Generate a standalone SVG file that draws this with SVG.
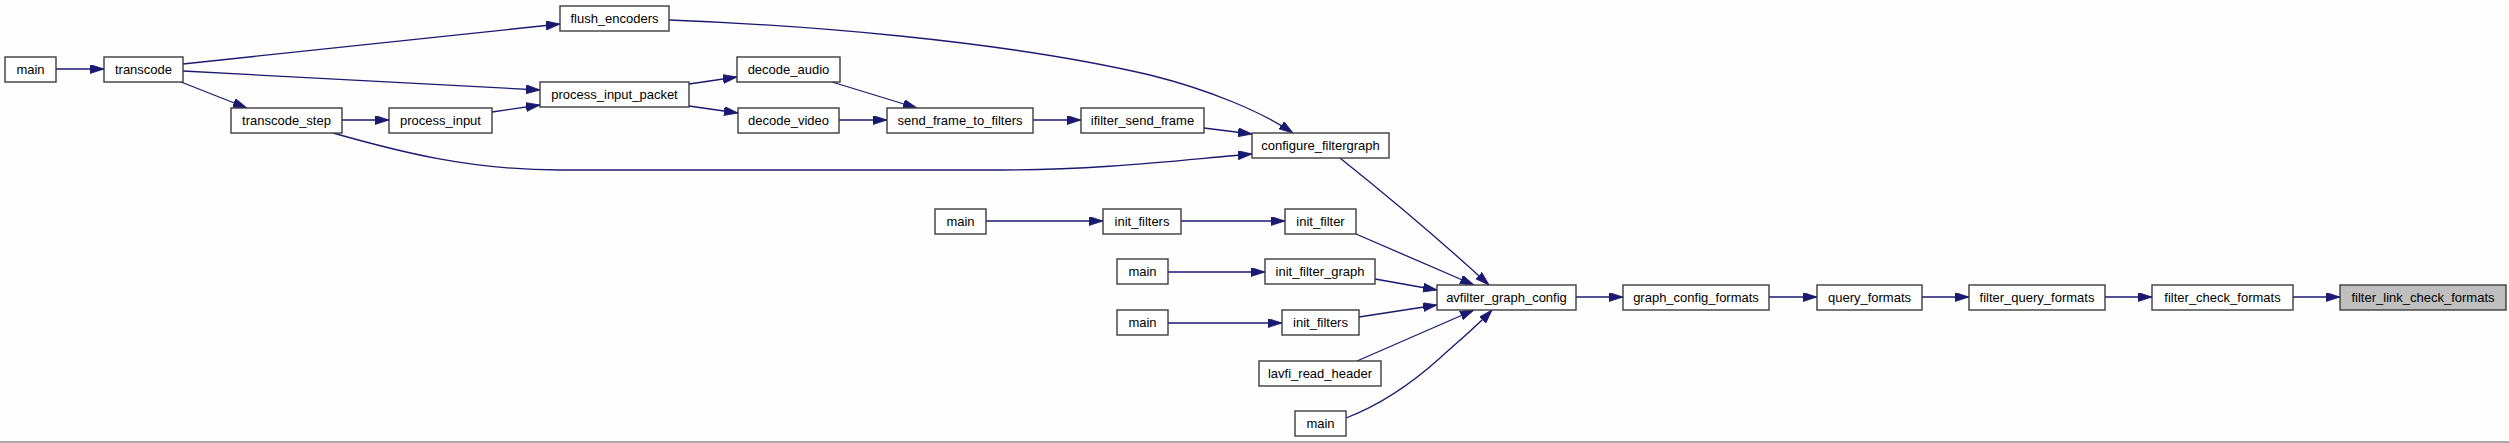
<svg xmlns="http://www.w3.org/2000/svg" width="2509" height="443" viewBox="0 0 2509 443">
<defs>
<style>
.n rect{fill:#ffffff;stroke:#3c3c3c;stroke-width:1.4}
.n text{font-family:"Liberation Sans",Arial,sans-serif;font-size:13px;fill:#000;text-anchor:middle}
.n.cur rect{fill:#bfbfbf}
.e path{fill:none;stroke:#191970;stroke-width:1.3;marker-end:url(#ah)}
</style>
<marker id="ah" markerUnits="userSpaceOnUse" markerWidth="15" markerHeight="10" refX="14" refY="4.5" orient="auto" viewBox="0 0 15 10">
<path d="M0,0 L14,4.5 L0,9 z" fill="#191970" stroke="#191970" stroke-width="0.8"/>
</marker>
</defs>
<rect x="0" y="0" width="2509" height="443" fill="#fdfefd"/>
<line x1="0" y1="442" x2="2509" y2="442" stroke="#a8a8a8" stroke-width="2"/>

<g id="edges" class="e">
<path d="M56,69 L104,69"/>
<path d="M183,64 L560,24"/>
<path d="M183,71 L540,90"/>
<path d="M181,82 L247,108"/>
<path d="M342,120 L389,120"/>
<path d="M333,133 C400,152 470,170 560,170 L1000,170 C1100,170 1180,160 1252,154"/>
<path d="M492,112 L540,105"/>
<path d="M689,84 L737,77"/>
<path d="M689,106 L738,113"/>
<path d="M832,82 L917,108"/>
<path d="M839,120 L887,120"/>
<path d="M1033,120 L1081,120"/>
<path d="M1204,128 L1252,134"/>
<path d="M669,20 C800,25 1000,40 1150,75 C1210,90 1262,112 1293,133"/>
<path d="M1340,158 C1390,198 1440,240 1489,285"/>
<path d="M986,221 L1103,221"/>
<path d="M1181,221 L1285,221"/>
<path d="M1356,234 L1474,285"/>
<path d="M1168,272 L1265,272"/>
<path d="M1375,279 L1437,290"/>
<path d="M1168,323 L1282,323"/>
<path d="M1359,317 L1437,305"/>
<path d="M1357,361 L1474,310"/>
<path d="M1346,418 C1380,405 1410,385 1440,358 C1460,340 1478,325 1492,310"/>
<path d="M1576,297 L1623,297"/>
<path d="M1769,297 L1817,297"/>
<path d="M1922,297 L1969,297"/>
<path d="M2105,297 L2152,297"/>
<path d="M2293,297 L2340,297"/>
</g>

<g id="n_main1" class="n"><rect x="5" y="57" width="51" height="25"/><text x="30.5" y="74">main</text></g>
<g id="n_transcode" class="n"><rect x="104" y="57" width="79" height="25"/><text x="143.5" y="74">transcode</text></g>
<g id="n_flush_encoders" class="n"><rect x="560" y="6" width="109" height="25"/><text x="614.5" y="23">flush_encoders</text></g>
<g id="n_process_input_packet" class="n"><rect x="540" y="82" width="149" height="25"/><text x="614.5" y="99">process_input_packet</text></g>
<g id="n_transcode_step" class="n"><rect x="231" y="108" width="111" height="25"/><text x="286.5" y="125">transcode_step</text></g>
<g id="n_process_input" class="n"><rect x="389" y="108" width="103" height="25"/><text x="440.5" y="125">process_input</text></g>
<g id="n_decode_audio" class="n"><rect x="737" y="57" width="103" height="25"/><text x="788.5" y="74">decode_audio</text></g>
<g id="n_decode_video" class="n"><rect x="738" y="108" width="101" height="25"/><text x="788.5" y="125">decode_video</text></g>
<g id="n_send_frame_to_filters" class="n"><rect x="887" y="108" width="146" height="25"/><text x="960" y="125">send_frame_to_filters</text></g>
<g id="n_ifilter_send_frame" class="n"><rect x="1081" y="108" width="123" height="25"/><text x="1142.5" y="125">ifilter_send_frame</text></g>
<g id="n_configure_filtergraph" class="n"><rect x="1252" y="133" width="137" height="25"/><text x="1320.5" y="150">configure_filtergraph</text></g>
<g id="n_main2" class="n"><rect x="935" y="209" width="51" height="25"/><text x="960.5" y="226">main</text></g>
<g id="n_init_filters1" class="n"><rect x="1103" y="209" width="78" height="25"/><text x="1142" y="226">init_filters</text></g>
<g id="n_init_filter" class="n"><rect x="1285" y="209" width="71" height="25"/><text x="1320.5" y="226">init_filter</text></g>
<g id="n_main3" class="n"><rect x="1117" y="259" width="51" height="25"/><text x="1142.5" y="276">main</text></g>
<g id="n_init_filter_graph" class="n"><rect x="1265" y="259" width="110" height="25"/><text x="1320" y="276">init_filter_graph</text></g>
<g id="n_avfilter_graph_config" class="n"><rect x="1437" y="285" width="139" height="25"/><text x="1506.5" y="302">avfilter_graph_config</text></g>
<g id="n_main4" class="n"><rect x="1117" y="310" width="51" height="25"/><text x="1142.5" y="327">main</text></g>
<g id="n_init_filters2" class="n"><rect x="1282" y="310" width="77" height="25"/><text x="1320.5" y="327">init_filters</text></g>
<g id="n_lavfi_read_header" class="n"><rect x="1259" y="361" width="122" height="25"/><text x="1320" y="378">lavfi_read_header</text></g>
<g id="n_main5" class="n"><rect x="1295" y="411" width="51" height="25"/><text x="1320.5" y="428">main</text></g>
<g id="n_graph_config_formats" class="n"><rect x="1623" y="285" width="146" height="25"/><text x="1696" y="302">graph_config_formats</text></g>
<g id="n_query_formats" class="n"><rect x="1817" y="285" width="105" height="25"/><text x="1869.5" y="302">query_formats</text></g>
<g id="n_filter_query_formats" class="n"><rect x="1969" y="285" width="136" height="25"/><text x="2037" y="302">filter_query_formats</text></g>
<g id="n_filter_check_formats" class="n"><rect x="2152" y="285" width="141" height="25"/><text x="2222.5" y="302">filter_check_formats</text></g>
<g id="n_filter_link_check_formats" class="n cur"><rect x="2340" y="285" width="166" height="25"/><text x="2423" y="302">filter_link_check_formats</text></g>
</svg>
